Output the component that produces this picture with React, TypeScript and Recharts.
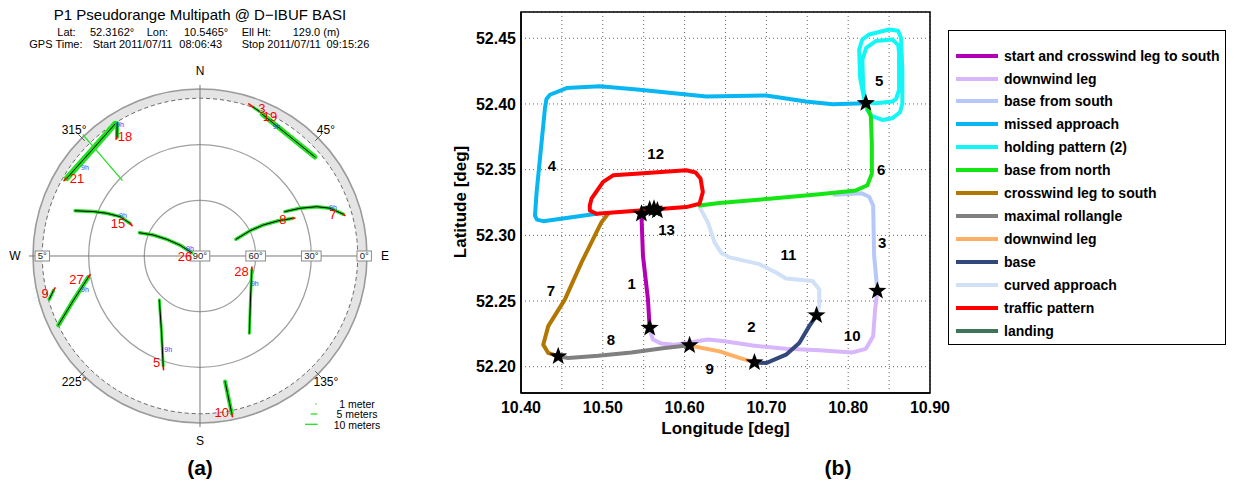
import React from 'react'
import {
  ScatterChart, ComposedChart, Scatter, Line, XAxis, YAxis, CartesianGrid, ReferenceArea,
} from 'recharts'

type Pt = [number, number]

// ---------- (a) skyplot, points are [azimuth deg, elevation deg] ----------
const sv03: Pt[] = [[19.6, 4.8], [22.2, 5.7]]
const sv19: Pt[] = [[23.6, 6.5], [36.0, 9.4], [49.3, 8.2]]
const sv21: Pt[] = [[300.4, 6.9], [314.0, 8.5], [327.2, 5.4]]
const sv18: Pt[] = [[325.1, 11.8], [328.1, 5.5]]
const sv15: Pt[] = [[289.9, 18.4], [292.6, 27.7], [294.6, 34.7], [296.2, 42.0], [295.0, 48.4]]
const sv26: Pt[] = [[291.0, 55.0], [294.2, 62.4], [296.7, 70.0], [298.6, 77.7], [291.8, 85.2]]
const sv08: Pt[] = [[65.1, 68.6], [63.2, 59.8], [63.9, 52.0], [65.8, 43.7], [67.9, 36.1]]
const sv07: Pt[] = [[62.4, 38.4], [64.5, 30.3], [67.1, 21.7], [69.8, 15.4], [73.7, 9.6]]
const sv28: Pt[] = [[105.0, 61.1], [131.1, 53.9], [147.4, 40.6]]
const sv05: Pt[] = [[222.7, 57.7], [206.5, 43.6], [198.5, 27.5]]
const sv10: Pt[] = [[168.7, 21.0], [168.6, 3.5]]
const sv27: Pt[] = [[259.2, 28.7], [250.5, 17.4], [244.0, 5.1]]
const sv09: Pt[] = [[256.7, 8.8], [254.0, 5.5]]

const prnList = [3, 19, 21, 18, 15, 26, 8, 7, 28, 5, 10, 27, 9]
const prnTracks = [sv03, sv19, sv21, sv18, sv15, sv26, sv08, sv07, sv28, sv05, sv10, sv27, sv09]
// multipath spread (drawn width of the green band)
const prnSpread = [3, 5, 6, 4, 3.5, 3.5, 3.5, 3.5, 3, 3, 4, 4.5, 3.5]
// red start tick of each pass
const prnTail: (Pt | null)[] = [
  [17.8, 3.9], null, [299.0, 6.2], [324.3, 12.4], [294.1, 49.9], null, [68.2, 34.9],
  [74.4, 8.9], [101.9, 61.4], [197.8, 25.7], [168.6, 1.7], [260.4, 29.9], [257.6, 10.0],
]
const prnLabelAt: Pt[] = [
  [22.7, 3.6], [26.7, 6.1], [302.2, 11.6], [327.8, 14.2], [291.6, 42.5], [266.5, 81.9],
  [66.2, 41.2], [72.6, 14.9], [110.5, 66.1], [202.1, 27.8], [172.1, 5.1], [259.0, 22.2], [256.4, 4.1],
]
const hourMarks: Pt[] = [
  [30.5, 8.7], [328.8, 6.9], [307.6, 11.7], [297.5, 43.2], [305.1, 83.4],
  [70.1, 13.8], [117.0, 56.8], [198.8, 36.9], [253.6, 25.4],
]
const spike18: Pt[] = [[316.0, -0.7], [314.2, 31.4]]

const ringEls = [0, 5, 30, 60]
const elevLabels = ['5°', '90°', '60°', '30°', '0°']
const elevLabelAt: Pt[] = [[270, 5], [0, 90], [90, 60], [90, 30], [90, 1.5]]
const azTicks = [45, 135, 225, 315]
const compass = ['N', 'E', 'S', 'W']

// ---------- (b) trajectory, points are [lon, lat] ----------
const seg1: Pt[] = [[10.5472, 52.3164], [10.5491, 52.2845], [10.5552, 52.2513], [10.5573, 52.2296]]
const seg2: Pt[] = [
  [10.5573, 52.2283], [10.5613, 52.2207], [10.5716, 52.2176], [10.5878, 52.2168], [10.6061, 52.2184],
  [10.6284, 52.2207], [10.6488, 52.2194], [10.6833, 52.2161], [10.724, 52.2136], [10.7646, 52.2125],
  [10.8052, 52.2109], [10.8216, 52.2136], [10.8305, 52.2232], [10.8329, 52.2436], [10.8357, 52.2577],
]
const seg3: Pt[] = [
  [10.8357, 52.2577], [10.8317, 52.2845], [10.8305, 52.3227], [10.8256, 52.3294], [10.8159, 52.3321], [10.7829, 52.3309],
]
const seg4: Pt[] = [
  [10.4923, 52.3164], [10.4272, 52.3108], [10.4195, 52.312], [10.4171, 52.3151], [10.4191, 52.333],
  [10.4232, 52.3585], [10.4293, 52.3968], [10.4311, 52.4037], [10.4354, 52.407], [10.4557, 52.4121],
  [10.4963, 52.4134], [10.5451, 52.4108], [10.6265, 52.4057], [10.6996, 52.4065], [10.7484, 52.4019],
  [10.7809, 52.3998], [10.8216, 52.4006],
]
const seg5: Pt[] = [
  [10.8204, 52.4011], [10.8146, 52.4198], [10.8134, 52.4414], [10.8171, 52.4489], [10.8256, 52.4529],
  [10.85, 52.4567], [10.861, 52.4557], [10.8646, 52.4504], [10.8662, 52.4261], [10.8662, 52.4006],
  [10.8634, 52.3937], [10.8537, 52.3891], [10.8418, 52.3878], [10.8293, 52.3907], [10.8232, 52.3953],
  [10.8183, 52.4121], [10.8174, 52.4338], [10.822, 52.4427], [10.8338, 52.4479], [10.854, 52.4491],
  [10.861, 52.445], [10.8622, 52.4389], [10.8622, 52.4108], [10.8585, 52.4037], [10.854, 52.4019],
  [10.8338, 52.4006], [10.8207, 52.4011],
]
const seg6: Pt[] = [
  [10.8216, 52.4006], [10.8277, 52.3904], [10.8289, 52.37], [10.8289, 52.347], [10.8235, 52.3381],
  [10.8094, 52.3342], [10.7646, 52.3312], [10.7037, 52.3279], [10.6427, 52.3246], [10.6183, 52.3227],
]
const seg7: Pt[] = [
  [10.5065, 52.3164], [10.4984, 52.31], [10.474, 52.2794], [10.4537, 52.2513], [10.4333, 52.2309],
  [10.4272, 52.2168], [10.4333, 52.2105], [10.4455, 52.2079],
]
const seg8: Pt[] = [[10.4455, 52.2079], [10.4577, 52.2067], [10.4943, 52.2084], [10.535, 52.2109], [10.5756, 52.2143], [10.6061, 52.2163]]
const seg9: Pt[] = [[10.6061, 52.2161], [10.6427, 52.2117], [10.6671, 52.2067], [10.6854, 52.2033]]
const seg10: Pt[] = [[10.6854, 52.2033], [10.6996, 52.2028], [10.724, 52.2092], [10.7402, 52.2181], [10.7524, 52.2309], [10.7613, 52.2391]]
const seg11: Pt[] = [
  [10.7613, 52.2391], [10.7646, 52.2462], [10.7646, 52.259], [10.7565, 52.2653], [10.724, 52.2672],
  [10.7118, 52.2717], [10.6915, 52.2781], [10.6549, 52.2832], [10.6451, 52.2865], [10.6366, 52.2947],
  [10.6284, 52.31], [10.6183, 52.3215],
]
const seg12: Pt[] = [
  [10.4923, 52.3164], [10.4841, 52.3189], [10.4841, 52.3227], [10.4862, 52.3279], [10.5004, 52.3407],
  [10.5126, 52.3457], [10.5451, 52.347], [10.6021, 52.3495], [10.6134, 52.3478], [10.6195, 52.3432],
  [10.6223, 52.333], [10.6183, 52.324], [10.6021, 52.3215], [10.5451, 52.3189], [10.4923, 52.3164],
]
const seg13: Pt[] = [[10.5472, 52.3164], [10.5667, 52.3189]]

const segNames = [
  'start and crosswind leg to south', 'downwind leg', 'base from south', 'missed approach',
  'holding pattern (2)', 'base from north', 'crosswind leg to south', 'maximal rollangle',
  'downwind leg', 'base', 'curved approach', 'traffic pattern', 'landing',
]
const segColors = [
  '#b400b4', '#d8b6fb', '#b5c8f9', '#08b6f2', '#14f6f6', '#14e614', '#b27700',
  '#808080', '#ffb064', '#33487a', '#cfe0f7', '#ff0000', '#3e7559',
]
const segPts = [seg1, seg2, seg3, seg4, seg5, seg6, seg7, seg8, seg9, seg10, seg11, seg12, seg13]
const drawOrder = [2, 3, 10, 1, 4, 5, 6, 7, 8, 9, 0, 11, 12]

const waypoints: Pt[] = [
  [10.5472, 52.3164], [10.5573, 52.3197], [10.5626, 52.3202], [10.5667, 52.3189],
  [10.5573, 52.2296], [10.6061, 52.2163], [10.6854, 52.2033], [10.7613, 52.2391],
  [10.8357, 52.2577], [10.8216, 52.4006], [10.4455, 52.2079],
]
const segLabelAt: Pt[] = [
  [10.5354, 52.2636], [10.6817, 52.2306], [10.8415, 52.2949], [10.4378, 52.3531], [10.8378, 52.4182],
  [10.8402, 52.3501], [10.4366, 52.2582], [10.5098, 52.2207], [10.6305, 52.1985], [10.8049, 52.2237],
  [10.7268, 52.2858], [10.5646, 52.3623], [10.578, 52.3041],
]

const lonTicks = [10.4, 10.45, 10.5, 10.55, 10.6, 10.65, 10.7, 10.75, 10.8, 10.85, 10.9]
const latTicks = [52.2, 52.25, 52.3, 52.35, 52.4, 52.45]

// ---------- helpers ----------
const FONT = '"Liberation Sans", Arial, Helvetica, sans-serif'
const R_UNITS = 102
const SKY_PLOT = 378.5
const K = SKY_PLOT / (2 * R_UNITS)

const toXY = ([az, el]: Pt) => {
  const r = 90 - el
  const a = (az * Math.PI) / 180
  return { x: r * Math.sin(a), y: r * Math.cos(a) }
}
const dist = (a: { x: number; y: number }, b: { x: number; y: number }) => Math.hypot(a.x - b.x, a.y - b.y)

const NoDot = () => <g />

const skyLine = (key: string, pts: Pt[], color: string, width: number) => (
  <Scatter
    key={key}
    data={pts.map(toXY)}
    fill={color}
    stroke={color}
    shape={NoDot}
    line={{ stroke: color, strokeWidth: width, strokeLinecap: 'round', strokeLinejoin: 'round' }}
    lineType="joint"
    isAnimationActive={false}
    legendType="none"
  />
)

const RingShape = (p: any) => {
  const el = p.payload.el
  const r = (90 - el) * K
  if (el === 0) return <circle cx={p.cx} cy={p.cy} r={r} fill="#e4e4e4" stroke="#9a9a9a" strokeWidth={1.6} />
  if (el === 5) return <circle cx={p.cx} cy={p.cy} r={r} fill="#fff" stroke="#444" strokeWidth={0.8} strokeDasharray="4 3" />
  return <circle cx={p.cx} cy={p.cy} r={r} fill="none" stroke="#a0a0a0" strokeWidth={1.3} />
}

const BoxLabel = (p: any) => {
  const t: string = p.payload.t
  const w = t.length * 5.2 + 4
  return (
    <g>
      <rect x={p.cx - w / 2} y={p.cy - 5} width={w} height={10} fill="#fff" stroke="#8a8a8a" strokeWidth={1} />
      <text x={p.cx} y={p.cy} textAnchor="middle" dominantBaseline="central" fontSize={9.5} fontFamily={FONT} fill="#222">{t}</text>
    </g>
  )
}

const textShape = (color: string, size: number, weight = 'normal') => (p: any) => (
  <text x={p.cx} y={p.cy} textAnchor="middle" dominantBaseline="central" fontSize={size} fontWeight={weight} fontFamily={FONT} fill={color}>
    {p.payload.t}
  </text>
)

const StarShape = (p: any) => {
  const R = 9.5
  const r = 3.9
  let d = ''
  for (let i = 0; i < 10; i++) {
    const rad = i % 2 === 0 ? R : r
    const a = -Math.PI / 2 + (i * Math.PI) / 5
    d += `${i ? 'L' : 'M'}${p.cx + rad * Math.cos(a)},${p.cy + rad * Math.sin(a)}`
  }
  return <path d={d + 'Z'} fill="#000" />
}

function SkyPlot() {
  const tailSegs = prnList
    .map((prn, i) => {
      const tail = prnTail[i]
      if (!tail) return null
      const trk = prnTracks[i]
      const first = trk[0]
      const last = trk[trk.length - 1]
      const end = dist(toXY(first), toXY(tail)) < dist(toXY(last), toXY(tail)) ? first : last
      return skyLine(`r${prn}`, [tail, end], '#ff0000', 1.6)
    })
    .filter(Boolean)

  return (
    <ScatterChart width={400} height={460} margin={{ top: 66.74, left: 10.74, right: 10.76, bottom: 14.76 }}>
      <XAxis type="number" dataKey="x" domain={[-R_UNITS, R_UNITS]} hide />
      <YAxis type="number" dataKey="y" domain={[-R_UNITS, R_UNITS]} hide />
      <Scatter data={ringEls.map(el => ({ x: 0, y: 0, el }))} shape={RingShape} isAnimationActive={false} />
      {skyLine('ns', [[0, -2], [180, -2]], '#7a7a7a', 1)}
      {skyLine('ew', [[90, -2], [270, -2]], '#7a7a7a', 1)}
      {azTicks.map(az => skyLine(`t${az}`, [[az, 2], [az, -2.5]], '#555', 1))}
      <Scatter
        data={elevLabels.map((t, i) => ({ ...toXY(elevLabelAt[i]), t }))}
        shape={BoxLabel}
        isAnimationActive={false}
      />
      {prnList.map((prn, i) => skyLine(`g${prn}`, prnTracks[i], '#22e022', prnSpread[i]))}
      {skyLine('spike', spike18, '#22e022', 1.3)}
      {prnList.map((prn, i) => skyLine(`k${prn}`, prnTracks[i], '#000', 1))}
      {tailSegs}
      <Scatter
        data={hourMarks.map(p => ({ ...toXY(p), t: '9h' }))}
        shape={textShape('#3a3aff', 7)}
        isAnimationActive={false}
      />
      <Scatter
        data={prnList.map((prn, i) => ({ ...toXY(prnLabelAt[i]), t: String(prn) }))}
        shape={textShape('#ff0000', 13)}
        isAnimationActive={false}
      />
      <Scatter
        data={azTicks.map(az => ({ ...toXY([az, -6]), t: `${az}°` }))}
        shape={textShape('#000', 12)}
        isAnimationActive={false}
      />
      <Scatter
        data={compass.map((t, i) => ({ ...toXY([i * 90, -9.7]), t }))}
        shape={textShape('#000', 12)}
        isAnimationActive={false}
      />
    </ScatterChart>
  )
}

function TrajectoryPlot() {
  return (
    <ComposedChart width={525} height={445} margin={{ top: 12, right: 35, bottom: 22, left: 21 }}>
      <CartesianGrid stroke="#666" strokeDasharray="1 3" />
      <XAxis
        type="number"
        dataKey="lon"
        domain={[10.4, 10.9]}
        ticks={lonTicks}
        allowDataOverflow
        interval={0}
        tickFormatter={(v: number, i: number) => (i % 2 === 0 ? v.toFixed(2) : '')}
        axisLine={{ stroke: '#000', strokeWidth: 1.5 }}
        tickLine={false}
        tickSize={6}
        tickMargin={3}
        height={30}
        tick={{ fill: '#000', fontSize: 16, fontWeight: 'bold', fontFamily: FONT }}
      />
      <YAxis
        type="number"
        dataKey="lat"
        domain={[52.18, 52.47]}
        ticks={latTicks}
        allowDataOverflow
        interval={0}
        tickFormatter={(v: number) => v.toFixed(2)}
        axisLine={{ stroke: '#000', strokeWidth: 1.5 }}
        tickLine={false}
        tickSize={3}
        tickMargin={2}
        width={60}
        tick={{ fill: '#000', fontSize: 16, fontWeight: 'bold', fontFamily: FONT }}
      />
      <ReferenceArea x1={10.4} x2={10.9} y1={52.18} y2={52.47} fill="none" fillOpacity={0} stroke="#000" strokeWidth={1.5} />
      {drawOrder.map(i => (
        <Line
          key={`seg${i}`}
          data={segPts[i].map(([lon, lat]) => ({ lon, lat }))}
          dataKey="lat"
          type="linear"
          stroke={segColors[i]}
          strokeWidth={4}
          strokeLinecap="round"
          strokeLinejoin="round"
          dot={false}
          activeDot={false}
          isAnimationActive={false}
          legendType="none"
        />
      ))}
      <Scatter
        data={waypoints.map(([lon, lat]) => ({ lon, lat }))}
        dataKey="lat"
        shape={StarShape}
        isAnimationActive={false}
      />
      <Scatter
        data={segLabelAt.map(([lon, lat], i) => ({ lon, lat, t: String(i + 1) }))}
        dataKey="lat"
        shape={textShape('#000', 15, 'bold')}
        isAnimationActive={false}
      />
    </ComposedChart>
  )
}

const abs = (left: number, top: number, extra: React.CSSProperties = {}): React.CSSProperties => ({
  position: 'absolute', left, top, whiteSpace: 'pre', lineHeight: 1, ...extra,
})

export default function App() {
  const small: React.CSSProperties = { fontSize: 11, fontFamily: FONT, color: '#000' }
  const line2: [string, number][] = [['Lat:', 57.3], ['52.3162°', 90], ['Lon:', 146.7], ['10.5465°', 184], ['Ell Ht:', 241.7], ['129.0 (m)', 292.7]]
  const line3: [string, number][] = [['GPS Time:', 29.3], ['Start 2011/07/11', 92.7], ['08:06:43', 179.3], ['Stop 2011/07/11', 241.7], ['09:15:26', 326.5]]
  return (
    <div style={{ position: 'absolute', left: 0, top: 0, width: 1233, height: 486, background: '#fff', fontFamily: FONT, overflow: 'hidden' }}>
      <div style={{ position: 'absolute', left: 0, top: 0 }}>
        <SkyPlot />
      </div>
      <div style={{ position: 'absolute', left: 440, top: 0 }}>
        <TrajectoryPlot />
      </div>

      {/* skyplot header */}
      <div style={abs(0, 6.5, { width: 400, textAlign: 'center', fontSize: 15, fontFamily: FONT })}>
        P1 Pseudorange Multipath @ D−IBUF BASI
      </div>
      {line2.map(([t, x]) => (
        <div key={t} style={abs(x, 26.7, small)}>{t}</div>
      ))}
      {line3.map(([t, x]) => (
        <div key={t} style={abs(x, 38.5, small)}>{t}</div>
      ))}

      {/* multipath scale */}
      <svg style={{ position: 'absolute', left: 300, top: 398 }} width={24} height={32}>
        <line x1={15.5} y1={6} x2={16.5} y2={6} stroke="#22e022" strokeWidth={1.5} />
        <line x1={10.7} y1={16} x2={17.3} y2={16} stroke="#22e022" strokeWidth={1.3} />
        <line x1={5} y1={26.3} x2={17.7} y2={26.3} stroke="#22e022" strokeWidth={1.3} />
      </svg>
      {['1 meter', '5 meters', '10 meters'].map((t, i) => (
        <div key={t} style={abs(357, [404.3, 414.7, 425][i] - 5.5, { fontSize: 10.5, transform: 'translateX(-50%)' })}>{t}</div>
      ))}

      {/* trajectory axis titles */}
      <div style={abs(725.5, 428, { fontSize: 17, fontWeight: 'bold', transform: 'translate(-50%, -50%)' })}>Longitude [deg]</div>
      <div style={abs(460, 202, { fontSize: 17, fontWeight: 'bold', transform: 'translate(-50%, -50%) rotate(-90deg)' })}>Latitude [deg]</div>

      {/* legend */}
      <div
        style={{
          position: 'absolute', left: 948, top: 30, width: 278, height: 315, boxSizing: 'border-box',
          border: '1px solid #000', background: '#fff', paddingTop: 13.2,
        }}
      >
        {segNames.map((name, i) => (
          <div key={i} style={{ height: 22.93, display: 'flex', alignItems: 'center' }}>
            <div style={{ width: 42, height: 4, marginLeft: 7, background: segColors[i] }} />
            <div style={{ marginLeft: 6, fontSize: 14, fontWeight: 'bold', whiteSpace: 'pre' }}>{name}</div>
          </div>
        ))}
      </div>

      {/* panel tags */}
      <div style={abs(200, 467, { fontSize: 21, fontWeight: 'bold', transform: 'translate(-50%, -50%)' })}>(a)</div>
      <div style={abs(838, 467, { fontSize: 21, fontWeight: 'bold', transform: 'translate(-50%, -50%)' })}>(b)</div>
    </div>
  )
}
